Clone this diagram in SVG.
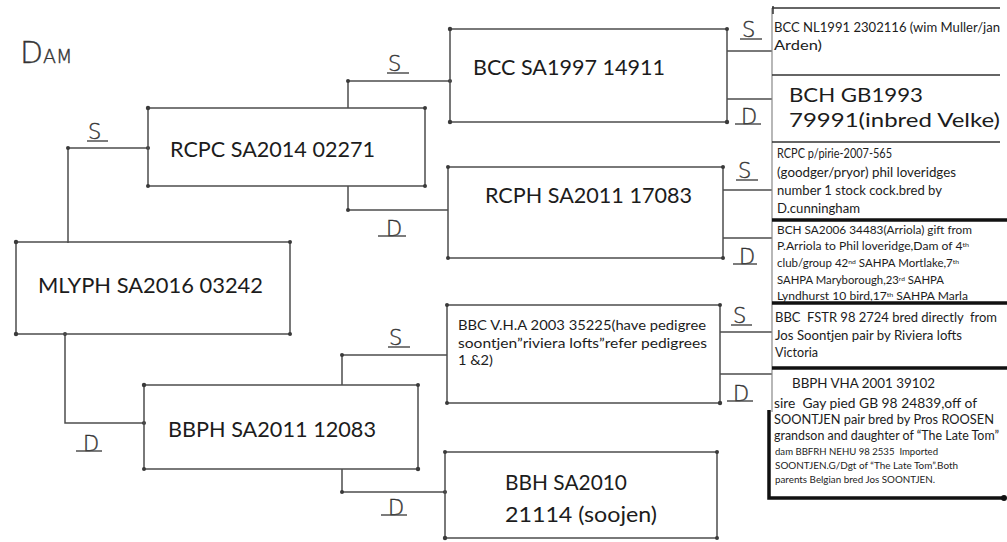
<svg xmlns="http://www.w3.org/2000/svg" width="1007" height="542" viewBox="0 0 1007 542">
<style>
.box{fill:none;stroke:#4d4d4d;stroke-width:1.5}
.con{fill:none;stroke:#4d4d4d;stroke-width:1.5}
.dot{fill:#3a3a3a}
.t{font-family:Lato,"Open Sans",sans-serif;fill:#1c1c1c}
.big{font-size:22px}
.hw{font-family:"DejaVu Sans",sans-serif;font-weight:200;fill:#333;stroke:#333;stroke-width:0.4;font-size:21px}
.ul{stroke:#444;stroke-width:1.4}
.sep{stroke:#333;stroke-width:1.5}
.thick{stroke:#111;stroke-width:3.5;fill:none}
.s13{font-size:12.5px}
.s12{font-size:11px}
.s10{font-size:10px}
.sup{font-size:6.5px}
</style>
<rect width="1007" height="542" fill="#ffffff"/>

<text x="20" y="63" style="font-family:'DejaVu Sans',sans-serif;font-weight:200;fill:#333;stroke:#333;stroke-width:0.4"><tspan font-size="30">D</tspan><tspan font-size="19">AM</tspan></text>

<g id="connectors">
  <polyline class="con" points="68,243 68,148 148,148"/>
  <polyline class="con" points="65,334 65,423 144,423"/>
  <polyline class="con" points="348,108 348,81 450,81"/>
  <polyline class="con" points="348,186 348,210 448,210"/>
  <polyline class="con" points="342,385 342,355 447,355"/>
  <polyline class="con" points="342,469 342,492 445,492"/>
  <line class="con" x1="727" y1="51" x2="772" y2="51"/>
  <line class="con" x1="727" y1="99" x2="772" y2="99"/>
  <line class="con" x1="723" y1="190" x2="772" y2="190"/>
  <line class="con" x1="723" y1="238" x2="772" y2="238"/>
  <line class="con" x1="720" y1="332" x2="772" y2="332"/>
  <line class="con" x1="720" y1="374" x2="772" y2="374"/>
  <g class="dot">
    <circle cx="68" cy="148" r="2"/><circle cx="148" cy="148" r="2"/>
    <circle cx="65" cy="334" r="2"/><circle cx="144" cy="423" r="2"/>
    <circle cx="348" cy="81" r="2"/><circle cx="450" cy="81" r="2"/>
    <circle cx="348" cy="210" r="2"/><circle cx="342" cy="355" r="2"/>
    <circle cx="342" cy="492" r="2"/><circle cx="445" cy="492" r="2"/>
  </g>
  <text class="hw" x="88" y="139">S</text><line class="ul" x1="87" y1="141" x2="108" y2="141"/>
  <text class="hw" x="388" y="71">S</text><line class="ul" x1="387" y1="73" x2="409" y2="73"/>
  <text class="hw" x="386" y="236">D</text><line class="ul" x1="378" y1="236" x2="406" y2="236"/>
  <text class="hw" x="83" y="451">D</text><line class="ul" x1="76" y1="451" x2="102" y2="451"/>
  <text class="hw" x="389" y="345">S</text><line class="ul" x1="388" y1="347" x2="410" y2="347"/>
  <text class="hw" x="388" y="515">D</text><line class="ul" x1="381" y1="515" x2="407" y2="515"/>
  <text class="hw" x="742" y="37">S</text><line class="ul" x1="740" y1="39" x2="762" y2="39"/>
  <text class="hw" x="741" y="124">D</text><line class="ul" x1="735" y1="124" x2="761" y2="124"/>
  <text class="hw" x="738" y="178">S</text><line class="ul" x1="736" y1="180" x2="758" y2="180"/>
  <text class="hw" x="739" y="264">D</text><line class="ul" x1="733" y1="264" x2="757" y2="264"/>
  <text class="hw" x="733" y="323">S</text><line class="ul" x1="731" y1="325" x2="752" y2="325"/>
  <text class="hw" x="733" y="401">D</text><line class="ul" x1="727" y1="401" x2="753" y2="401"/>
</g>

<g id="mlyph">
  <rect class="box" x="16" y="242" width="274" height="92"/>
  <g class="dot"><circle cx="16" cy="242" r="2.2"/><circle cx="290" cy="242" r="2"/><circle cx="16" cy="334" r="2.2"/><circle cx="290" cy="334" r="2"/></g>
  <text class="t big" x="38" y="293" font-size="22.5" textLength="225" lengthAdjust="spacingAndGlyphs">MLYPH SA2016 03242</text>
</g>

<g id="rcpc">
  <rect class="box" x="148" y="108" width="277" height="78"/>
  <g class="dot"><circle cx="148" cy="108" r="2.2"/><circle cx="425" cy="108" r="2"/><circle cx="148" cy="186" r="2"/><circle cx="425" cy="186" r="2"/></g>
  <text class="t big" x="170" y="157" textLength="205" lengthAdjust="spacingAndGlyphs">RCPC SA2014 02271</text>
</g>

<g id="bbph">
  <rect class="box" x="144" y="385" width="274" height="84"/>
  <g class="dot"><circle cx="144" cy="385" r="2.2"/><circle cx="418" cy="385" r="2"/><circle cx="144" cy="469" r="2"/><circle cx="418" cy="469" r="2.2"/></g>
  <text class="t big" x="168" y="437" textLength="208" lengthAdjust="spacingAndGlyphs">BBPH SA2011 12083</text>
</g>

<g id="bcc">
  <rect class="box" x="450" y="29" width="277" height="93"/>
  <g class="dot"><circle cx="450" cy="29" r="2.2"/><circle cx="727" cy="29" r="2"/><circle cx="450" cy="122" r="2.2"/><circle cx="727" cy="122" r="2.2"/></g>
  <text class="t big" x="473" y="75" textLength="192" lengthAdjust="spacingAndGlyphs">BCC SA1997 14911</text>
</g>

<g id="rcph">
  <rect class="box" x="448" y="167" width="275" height="91"/>
  <g class="dot"><circle cx="448" cy="167" r="2"/><circle cx="723" cy="167" r="2"/><circle cx="448" cy="258" r="2"/><circle cx="723" cy="258" r="2"/></g>
  <text class="t big" x="485" y="203" textLength="207" lengthAdjust="spacingAndGlyphs">RCPH SA2011 17083</text>
</g>

<g id="bbc">
  <rect class="box" x="447" y="305" width="273" height="98"/>
  <g class="dot"><circle cx="447" cy="305" r="2"/><circle cx="720" cy="305" r="2"/><circle cx="447" cy="403" r="2"/><circle cx="720" cy="403" r="2.2"/></g>
  <text class="t" x="458" y="330" font-size="14" textLength="248" lengthAdjust="spacingAndGlyphs">BBC V.H.A 2003 35225(have pedigree</text>
  <text class="t" x="458" y="348" font-size="14" textLength="249" lengthAdjust="spacingAndGlyphs">soontjen”riviera lofts”refer pedigrees</text>
  <text class="t" x="458" y="365" font-size="14" textLength="35" lengthAdjust="spacingAndGlyphs">1 &amp;2)</text>
</g>

<g id="bbh">
  <rect class="box" x="445" y="452" width="272" height="86"/>
  <g class="dot"><circle cx="445" cy="452" r="2"/><circle cx="717" cy="452" r="2"/><circle cx="445" cy="538" r="2.2"/><circle cx="717" cy="538" r="2"/></g>
  <text class="t big" x="505" y="490" textLength="122" lengthAdjust="spacingAndGlyphs">BBH SA2010</text>
  <text class="t big" x="505" y="522" textLength="152" lengthAdjust="spacingAndGlyphs">21114 (soojen)</text>
</g>

<g id="ancestors">
  <line x1="772" y1="8" x2="772" y2="412" stroke="#888" stroke-width="1.2"/>
  <line class="sep" x1="772" y1="8" x2="1000" y2="8"/>
  <line class="sep" x1="773" y1="6" x2="773" y2="14"/>
  <line class="sep" x1="772" y1="75" x2="1000" y2="75"/>
  <line class="sep" x1="772" y1="142" x2="1000" y2="142"/>
  <line class="thick" x1="772" y1="220" x2="1007" y2="220"/>
  <line class="thick" x1="772" y1="303" x2="1007" y2="303"/>
  <line class="thick" x1="772" y1="368" x2="1007" y2="368"/>
  <polyline class="thick" points="769,410 769,498 1004,498"/>
  <circle cx="1004" cy="498" r="3" fill="#111"/>
</g>

<g id="a-bcc-nl">
  <text class="t" x="774" y="32" font-size="13" textLength="226" lengthAdjust="spacingAndGlyphs">BCC NL1991 2302116 (wim Muller/jan</text>
  <text class="t" x="774" y="50" font-size="13" textLength="48" lengthAdjust="spacingAndGlyphs">Arden)</text>
</g>
<g id="a-bch-gb">
  <text class="t" x="789" y="102" font-size="20" textLength="134" lengthAdjust="spacingAndGlyphs">BCH GB1993</text>
  <text class="t" x="789" y="127" font-size="20" textLength="211" lengthAdjust="spacingAndGlyphs">79991(inbred Velke)</text>
</g>
<g id="a-rcpc-pirie">
  <text class="t s13" x="777" y="158" textLength="115" lengthAdjust="spacingAndGlyphs">RCPC p/pirie-2007-565</text>
  <text class="t s13" x="777" y="177" textLength="179" lengthAdjust="spacingAndGlyphs">(goodger/pryor) phil loveridges</text>
  <text class="t s13" x="777" y="195" textLength="165" lengthAdjust="spacingAndGlyphs">number 1 stock cock.bred by</text>
  <text class="t s13" x="777" y="213" textLength="83" lengthAdjust="spacingAndGlyphs">D.cunningham</text>
</g>
<g id="a-bch-sa">
  <text class="t s12" x="777" y="234" textLength="195" lengthAdjust="spacingAndGlyphs">BCH SA2006 34483(Arriola) gift from</text>
  <text class="t s12" x="777" y="250" textLength="192" lengthAdjust="spacingAndGlyphs">P.Arriola to Phil loveridge,Dam of 4<tspan class="sup" dy="-3">th</tspan></text>
  <text class="t s12" x="777" y="267" textLength="182" lengthAdjust="spacingAndGlyphs">club/group 42<tspan class="sup" dy="-3">nd</tspan><tspan dy="3"> SAHPA Mortlake,7</tspan><tspan class="sup" dy="-3">th</tspan></text>
  <text class="t s12" x="777" y="284" textLength="167" lengthAdjust="spacingAndGlyphs">SAHPA Maryborough,23<tspan class="sup" dy="-3">rd</tspan><tspan dy="3"> SAHPA</tspan></text>
  <text class="t s12" x="777" y="300" textLength="191" lengthAdjust="spacingAndGlyphs">Lyndhurst 10 bird,17<tspan class="sup" dy="-3">th</tspan><tspan dy="3"> SAHPA Marla</tspan></text>
</g>
<g id="a-bbc-fstr">
  <text class="t s13" x="775" y="322" xml:space="preserve" textLength="222" lengthAdjust="spacingAndGlyphs">BBC  FSTR 98 2724 bred directly  from</text>
  <text class="t s13" x="775" y="340" textLength="187" lengthAdjust="spacingAndGlyphs">Jos Soontjen pair by Riviera lofts</text>
  <text class="t s13" x="775" y="357" textLength="43" lengthAdjust="spacingAndGlyphs">Victoria</text>
</g>
<g id="a-bbph-vha">
  <text class="t" x="792" y="388" font-size="14" textLength="143" lengthAdjust="spacingAndGlyphs">BBPH VHA 2001 39102</text>
  <text class="t s13" x="774" y="408" xml:space="preserve" textLength="203" lengthAdjust="spacingAndGlyphs">sire  Gay pied GB 98 24839,off of</text>
  <text class="t s13" x="774" y="424" textLength="220" lengthAdjust="spacingAndGlyphs">SOONTJEN pair bred by Pros ROOSEN</text>
  <text class="t s13" x="774" y="440" textLength="225" lengthAdjust="spacingAndGlyphs">grandson and daughter of “The Late Tom”</text>
  <text class="t s10" x="775" y="455" xml:space="preserve" textLength="163" lengthAdjust="spacingAndGlyphs">dam BBFRH NEHU 98 2535  Imported</text>
  <text class="t s10" x="775" y="469" textLength="183" lengthAdjust="spacingAndGlyphs">SOONTJEN.G/Dgt of “The Late Tom”.Both</text>
  <text class="t s10" x="775" y="483" textLength="160" lengthAdjust="spacingAndGlyphs">parents Belgian bred Jos SOONTJEN.</text>
</g>
</svg>
